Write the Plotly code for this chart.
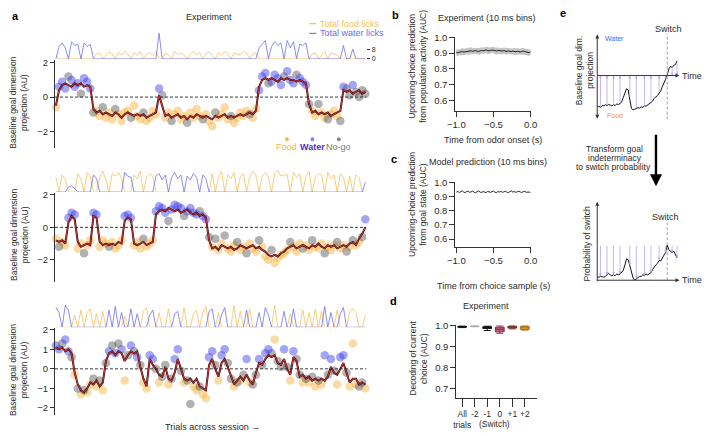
import plotly.graph_objects as go

W, H = 708, 436
FONT = "Liberation Sans, Arial, sans-serif"
TXT = "#2b2b2b"

# ---------------- Panel a data (one entry per trial; values in tenths of AU) ----------------
s1_choice = ("F" "WWWNWWWNWWW" "N" "FFNFFFNFFFFNFFFNFFFF" "W" "N"
             "FFNFFFFNFFFFNFFFNFFFFNFFFFFNFF" "W" "WWNWWWWNWWWNWWW" "N" "FFNFFNFFFN" "W" "NNWNNNN")
s1_line = [-5, 4, 7, 8, 7, 6, 8, 7, 8, 6, 7, 6, -7,
           -9, -8, -10, -9, -10, -11, -9, -10, -12, -10, -9, -10, -11, -10, -11, -10, -12, -11, -10, -9,
           1, -5,
           -11, -10, -12, -11, -10, -12, -11, -13, -11, -12, -10, -11, -12, -11, -12, -13, -11, -12, -11, -10,
           -12, -11, -12, -11, -10, -11, -10, -9, -10, -8,
           6, 10, 11, 10, 11, 10, 9, 11, 10, 11, 10, 10, 9, 10, 9, 8,
           -4, -9, -8, -10, -9, -10, -9, -11, -10, -9, -8,
           4, 3, 4, 2, 3, 4, 2, 3]
s1_dots = [-6, 6, 9, 5, 12, 10, 6, 8, 2, 11, 9, 5, -9,
           -8, -11, -6, -12, -9, -13, -7, -10, -14, -9, -8, -12, -5, -11, -13, -9, -14, -12, -8, -10,
           5, 1,
           -12, -9, -14, -10, -8, -13, -11, -15, -9, -12, -7, -11, -13, -10, -14, -17, -9, -12, -10, -6,
           -13, -11, -15, -12, -9, -11, -8, -10, -12, -7,
           4, 12, 14, 8, 9, 13, 11, 7, 12, 15, 10, 8, 13, 11, 9, 7,
           -4, -8, -11, -4, -9, -12, -13, -10, -8, -11, -14,
           6, 5, 1, 7, 3, 0, 4, 2]
s1_licks = [3, 10, 13, 9, 0, 14, 11, 12, 0, 13, 10, 12, 0,
            4, 5, 0, 3, 6, 4, 0, 5, 3, 6, 4, 0, 5, 3, 6, 0, 4, 5, 3, 6,
            21, 0,
            5, 3, 0, 6, 4, 5, 3, 0, 4, 6, 3, 5, 0, 4, 6, 3, 0, 5, 3, 6, 4, 0, 5, 4, 3, 6, 5, 0, 4, 5,
            9, 12, 15, 0, 10, 14, 11, 13, 0, 15, 9, 14, 0, 12, 11, 13,
            0, 4, 5, 0, 3, 6, 0, 5, 4, 3, 0,
            11, 0, 0, 8, 0, 0, 0, 0]

s2_choice = ("FNFF" "WWW" "FFNFF" "WW" "FFFNFFFF" "WWW" "FFFNFFF" "WWWWNWWWWNWWWWNWW" "N"
             "FNFFNFFFNFFNFFFNF" "FFNFFFF" "FNFFFNFFNFFFNFFFNFFNF" "NFFNW")
s2_line = [-8, -9, -8, -10, 3, 7, 5, -9, -12, -11, -10, -11, 7, 6,
           -9, -11, -10, -11, -10, -11, -9, -10, 4, 6, 5, -10, -11, -10, -9, -11, -10, -9,
           8, 10, 11, 10, 12, 11, 10, 11, 9, 10, 11, 9, 8, 9, 7, 8, 6, -8,
           -13, -12, -14, -11, -12, -13, -12, -14, -13, -11, -12, -13, -12, -11, -13, -12, -14,
           -15, -17, -18, -17, -18, -16, -15,
           -13, -12, -11, -13, -12, -11, -12, -13, -11, -12, -10, -12, -13, -11, -12, -11, -13, -12, -11, -12, -10,
           -9, -11, -7, -4, 0]
s2_dots = [-7, -12, -9, -11, 6, 9, 8, -13, -10, -16, -11, -8, 9, 8,
           -12, -8, -10, -12, -9, -13, -11, -8, 7, 8, 6, -11, -9, -13, -7, -12, -10, -8,
           10, 13, 12, 9, 4, 11, 14, 13, 12, 7, 10, 12, 9, 8, 10, 7, 5, -6,
           -12, -7, -14, -10, -5, -13, -15, -11, -9, -14, -12, -16, -10, -13, -15, -8, -12,
           -18, -20, -14, -22, -19, -17, -16,
           -14, -9, -12, -15, -10, -13, -11, -14, -8, -12, -13, -10, -16, -12, -14, -11, -9, -13, -11, -15, -12,
           -8, -11, -9, -6, 5]
s2_licks = [12, 0, 14, 10, 4, 5, 3, 15, 11, 0, 16, 13, 14, 11,
            12, 17, 10, 0, 15, 13, 16, 11, 16, 13, 12, 14, 11, 17, 0, 12, 15, 13,
            13, 15, 10, 14, 0, 12, 16, 11, 14, 0, 13, 10, 15, 12, 0, 14, 11, 0,
            15, 0, 12, 17, 0, 14, 11, 16, 0, 13, 15, 0, 12, 17, 14, 0, 13,
            16, 12, 0, 15, 18, 13, 14,
            14, 0, 16, 12, 15, 0, 13, 17, 0, 12, 15, 14, 0, 16, 11, 14, 0, 15, 12, 0, 13,
            0, 14, 12, 0, 8]

s3_choice = ("WWNWWNFNFN" "FFNFNFNWNW" "NWFNWNWNFF" "WWNFNNFNWW" "NFNNFFNFFW"
             "WNFWWNNFNF" "NWFNNWNWWN" "FNNWNFWNNF" "NFNFNFWNWN" "FWWNFFFNNF")
s3_line = [11, 10, 11, 9, 10, 8, -2, -8, -11, -12, -10, -7, -8, -6, -9, -7, 4,
           8, 9, 7, 9, 8, 4, 7, 9, 8, 9,
           1, -5, -9, 5, 2, 0, -3, -4, 1, -5, -6, -2, 5, 0, -5, -6, -5, -7, -5, -9,
           -10, -11, 2, 5, 0, -4, 3, 5, 1, -4, -8, -6, -4, -6, -3, -6, -8, -2, 3, 2,
           5, 7, 6, 7, 3, 2, 5, 0, -3, 6, 4, -4, -3, -5, -4, -6, -5, -6, -5, -6,
           -4, 1, -2, -3, 0, 3, -2, -7, -5, -5, -8, -7, -8]
s3_dots = [12, 10, 13, 15, 9, 6, -3, -10, -13, -11,
           -12, -8, -5, -9, -6, -11, 3, 9, 12, 8,
           13, 10, -6, 7, 12, 9, 6, 2, -7, -10,
           7, 5, 0, -7, -4, 2, -8, -5, 5, 10,
           -1, -7, -6, -18, -9, -11, -9, -13, -15, 6,
           9, 2, -6, 7, 10, 3, -5, -9, -7, -6,
           -3, 5, -7, -8, -3, 5, 2, 8, 10, 8,
           15, 4, 1, 10, 1, -6, 9, 5, -3, -7,
           -5, -7, -4, -9, -6, -8, 7, -3, 5, -1,
           -8, 6, 7, -2, -9, 13, -8, -9, -7, -10]
s3_licks = [16, 12, 0, 18, 14, 0, 10, 0, 14, 0,
            12, 15, 0, 11, 0, 13, 0, 14, 0, 17,
            0, 12, 9, 0, 15, 0, 11, 0, 13, 16,
            10, 14, 0, 12, 0, 0, 15, 0, 11, 13,
            0, 16, 0, 0, 11, 14, 0, 12, 17, 13,
            15, 0, 12, 10, 16, 0, 0, 18, 0, 13,
            0, 14, 15, 0, 0, 12, 0, 16, 10, 0,
            18, 0, 0, 13, 0, 11, 15, 0, 0, 14,
            0, 12, 0, 15, 0, 13, 17, 0, 12, 0,
            14, 11, 16, 0, 13, 15, 12, 0, 0, 10]

# ---------------- Panel b / c data (AUC, thousandths) ----------------
b_mean = [905, 903, 906, 908, 910, 907, 909, 912, 910, 913, 915, 912, 914, 916, 913, 911, 914,
          917, 915, 918, 920, 917, 915, 918, 921, 919, 916, 914, 917, 915, 912, 914, 916, 913,
          911, 914, 912, 910, 913, 911, 909, 912, 910, 908, 911, 913, 910, 907, 905, 903, 908]
b_sem = [20, 21, 19, 20, 22, 21, 20, 19, 21, 20, 22, 21, 20, 19, 20, 21, 22, 20, 19, 21, 20,
         22, 21, 20, 19, 21, 20, 22, 21, 20, 19, 21, 20, 22, 21, 20, 19, 20, 21, 22, 20, 21,
         19, 20, 22, 21, 20, 19, 21, 20, 20]
c_mean = [930, 936, 928, 934, 940, 931, 927, 935, 938, 929, 933, 937, 930, 926, 934, 939, 931,
          928, 935, 932, 927, 936, 933, 929, 934, 938, 930, 927, 935, 931, 936, 929, 933, 937,
          930, 928, 934, 939, 931, 935, 929, 933, 937, 932, 928, 934, 936, 930, 933, 931, 929]
bin_times = [round(-1 + 0.02 * i, 2) for i in range(51)]

# ---------------- Panel d data ----------------
d_labels = ["All<br>trials", "-2", "-1", "0", "+1", "+2"]
d_q1 = [0.994, 0.997, 0.988, 0.972, 0.990, 0.983]
d_med = [0.996, 0.998, 0.992, 0.984, 0.994, 0.991]
d_q3 = [0.998, 0.999, 0.996, 0.994, 0.998, 0.998]
d_lo = [0.992, 0.996, 0.978, 0.965, 0.986, 0.980]
d_hi = [0.999, 1.000, 0.999, 1.000, 1.000, 1.000]
d_fill = ["#444444", "#cfcfcf", "#333333", "#c45a7c", "#b5584a", "#e9a83a"]
d_edge = ["#111111", "#aaaaaa", "#111111", "#7d2a48", "#7a3326", "#a8731c"]

# ---------------- Panel e data (schematic) ----------------
e_t = list(range(0, 100, 2))
e_top = [-0.86, -0.84, -0.87, -0.82, -0.83, -0.80, -0.82, -0.79, -0.81, -0.83, -0.80, -0.82,
         -0.78, -0.79, -0.77, -0.72, -0.60, -0.45, -0.36, -0.40, -0.62, -0.90, -0.94, -0.92,
         -0.91, -0.88, -0.89, -0.86, -0.87, -0.83, -0.84, -0.80, -0.76, -0.72, -0.70, -0.62,
         -0.58, -0.55, -0.48, -0.42, -0.30, -0.22, -0.10, 0.02, 0.18, 0.25, 0.22, 0.28, 0.30, 0.40]
e_bot = [0.04, 0.04, 0.05, 0.04, 0.04, 0.05, 0.07, 0.09, 0.07, 0.06, 0.07, 0.06, 0.08, 0.07,
         0.08, 0.10, 0.13, 0.20, 0.28, 0.27, 0.20, 0.10, 0.03, 0.00, 0.02, 0.04, 0.05, 0.05,
         0.07, 0.06, 0.08, 0.07, 0.09, 0.10, 0.14, 0.18, 0.20, 0.22, 0.26, 0.25, 0.30, 0.33,
         0.36, 0.46, 0.40, 0.38, 0.36, 0.38, 0.34, 0.29]
e_arrow_t = [4, 12, 20, 28, 40, 48, 58, 66, 76, 84, 92, 98]
e_switch_t = 86


def dx(a, b):
    return [a / W, b / W]


def dy(top, bot):
    return [1 - bot / H, 1 - top / H]


def PX(x):
    return x / W


def PY(y):
    return 1 - y / H


fig = go.Figure()
ann = []
shp = []
lay = {}


def txt(x, y, s, size=9, color=TXT, xanchor="center", yanchor="middle", angle=0):
    ann.append(dict(x=PX(x), y=PY(y), xref="paper", yref="paper", text=s, showarrow=False,
                    font=dict(size=size, color=color, family=FONT), xanchor=xanchor,
                    yanchor=yanchor, textangle=angle, borderpad=0))


def parrow(hx, hy, tx, ty, color="#333333", width=1.0, size=0.8, head=2):
    ann.append(dict(x=PX(hx), y=PY(hy), xref="paper", yref="paper", ax=tx - hx, ay=ty - hy,
                    axref="pixel", ayref="pixel", text="", showarrow=True, arrowhead=head,
                    arrowsize=size, arrowwidth=width, arrowcolor=color))


AX = dict(showline=True, linecolor="#333333", linewidth=1, ticks="outside", ticklen=5,
          tickwidth=1, tickcolor="#333333", showgrid=False, zeroline=False,
          tickfont=dict(size=9.5, color=TXT, family=FONT))

FOOD_DOT = "rgba(247,176,52,0.45)"
WATER_DOT = "rgba(55,55,235,0.45)"
NOGO_DOT = "rgba(60,60,60,0.40)"
FOOD_LICK = "#f5c15f"
WATER_LICK = "#7070ec"

sessions = [
    dict(choice=s1_choice, line=s1_line, dots=s1_dots, licks=s1_licks, sc=(55, 145),
         rng=[-2.97, 2.17], ticks=[-2, 0, 2], lk=(26, 54), lrng=[0, 22.4], ytitle=99),
    dict(choice=s2_choice, line=s2_line, dots=s2_dots, licks=s2_licks, sc=(191, 282),
         rng=[-3.39, 2.12], ticks=[-2, 0, 2], lk=(163, 190), lrng=[0, 21.6], ytitle=234),
    dict(choice=s3_choice, line=s3_line, dots=s3_dots, licks=s3_licks, sc=(329, 418),
         rng=[-2.38, 2.08], ticks=[-2, -1, 0, 1, 2], lk=(300, 328), lrng=[0, 22.4], ytitle=372),
]

for k, s in enumerate(sessions):
    ns, nl = 2 * k + 1, 2 * k + 2
    xs = "x" if ns == 1 else f"x{ns}"
    ys = "y" if ns == 1 else f"y{ns}"
    xl, yl = f"x{nl}", f"y{nl}"
    ch = list(s["choice"])
    assert len(ch) == len(s["line"]) == len(s["dots"]) == len(s["licks"]) == 100, \
        (k, len(ch), len(s["line"]), len(s["dots"]), len(s["licks"]))
    trials = list(range(len(ch)))
    line = [v / 10 for v in s["line"]]
    dots = [v / 10 for v in s["dots"]]
    food_l = [l if c == "F" else 0 for l, c in zip(s["licks"], ch)]
    water_l = [l if c == "W" else 0 for l, c in zip(s["licks"], ch)]
    fig.add_trace(go.Scatter(x=trials, y=food_l, mode="lines", line=dict(color=FOOD_LICK, width=0.8),
                             xaxis=xl, yaxis=yl, hoverinfo="skip"))
    fig.add_trace(go.Scatter(x=trials, y=water_l, mode="lines", line=dict(color=WATER_LICK, width=0.8),
                             xaxis=xl, yaxis=yl, hoverinfo="skip"))
    for cat, col in [("F", FOOD_DOT), ("N", NOGO_DOT), ("W", WATER_DOT)]:
        xi = [i for i, c in enumerate(ch) if c == cat]
        fig.add_trace(go.Scatter(x=xi, y=[dots[i] for i in xi], mode="markers",
                                 marker=dict(size=8.5, color=col, line=dict(width=0)),
                                 cliponaxis=False, xaxis=xs, yaxis=ys))
    fig.add_trace(go.Scatter(x=trials, y=line, mode="lines", line=dict(color="#4a0c0c", width=2.0),
                             xaxis=xs, yaxis=ys))
    fig.add_trace(go.Scatter(x=trials, y=line, mode="lines", line=dict(color="#cf3a40", width=0.9),
                             xaxis=xs, yaxis=ys))
    lay["xaxis" if ns == 1 else f"xaxis{ns}"] = dict(domain=dx(48, 366), range=[-0.3, 99.3],
                                                     visible=False, anchor=ys)
    ya = dict(AX)
    ya.update(domain=dy(*s["sc"]), range=s["rng"], anchor=xs, tickvals=s["ticks"], ticklen=4)
    lay["yaxis" if ns == 1 else f"yaxis{ns}"] = ya
    lay[f"xaxis{nl}"] = dict(domain=dx(48, 366), range=[-0.3, 99.3], visible=False, anchor=yl)
    if k == 0:
        lay[f"yaxis{nl}"] = dict(domain=dy(*s["lk"]), range=s["lrng"], anchor=xl, side="right",
                                 showline=False, ticks="outside", ticklen=3, tickcolor="#333",
                                 tickvals=[0, 8], showgrid=False, zeroline=False,
                                 tickfont=dict(size=7, color=TXT, family=FONT))
    else:
        lay[f"yaxis{nl}"] = dict(domain=dy(*s["lk"]), range=s["lrng"], anchor=xl, visible=False)
    shp.append(dict(type="line", xref=f"{xs} domain", x0=0, x1=1, yref=ys, y0=0, y1=0,
                    line=dict(color="#222222", width=0.9, dash="3px,2px")))
    txt(11, s["ytitle"], "Baseline goal dimension<br>projection (AU)", size=8.5, angle=-90)

# panel a texts
txt(8, 10, "<b>a</b>", size=11, color="#000")
txt(205, 11, "Experiment", size=9)
shp.append(dict(type="line", xref="paper", yref="paper", x0=PX(308), x1=PX(315), y0=PY(18), y1=PY(18),
                line=dict(color=FOOD_LICK, width=1.2)))
shp.append(dict(type="line", xref="paper", yref="paper", x0=PX(308), x1=PX(315), y0=PY(28), y1=PY(28),
                line=dict(color=WATER_LICK, width=1.2)))
txt(318, 18, "Total food licks", size=9, color="#f2c25c", xanchor="left")
txt(318, 28, "Total water licks", size=9, color="#6e6ee4", xanchor="left")
for cx, lab, dcol, tcol in [(285, "Food", "#f5b342", "#f0b840"), (311, "<b>Water</b>", "#8a80e8", "#4a2fd0"),
                            (338, "No-go", "#8a8a8a", "#7a7a7a")]:
    shp.append(dict(type="circle", xref="paper", yref="paper", x0=PX(cx - 2), x1=PX(cx + 2),
                    y0=PY(138), y1=PY(134), fillcolor=dcol, line=dict(width=0)))
    txt(cx, 144, lab, size=9, color=tcol)
txt(209, 430, "Trials across session \u2192", size=9)

# ---------------- panel b ----------------
b_lo = [(m - e) / 1000 for m, e in zip(b_mean, b_sem)]
b_hi = [(m + e) / 1000 for m, e in zip(b_mean, b_sem)]
fig.add_trace(go.Scatter(x=bin_times, y=b_lo, mode="lines", line=dict(width=0), xaxis="x7", yaxis="y7"))
fig.add_trace(go.Scatter(x=bin_times, y=b_hi, mode="lines", line=dict(width=0), fill="tonexty",
                         fillcolor="rgba(165,165,165,0.65)", xaxis="x7", yaxis="y7"))
fig.add_trace(go.Scatter(x=bin_times, y=[m / 1000 for m in b_mean], mode="lines",
                         line=dict(color="#111", width=0.9), xaxis="x7", yaxis="y7"))
xa = dict(AX); xa.update(domain=dx(457, 534), range=[-1.013, 0.0], anchor="y7",
                         tickvals=[-1, -0.5, 0], tickformat=".1f")
ya = dict(AX); ya.update(domain=dy(32, 107), range=[0.536, 1.0], anchor="x7",
                         tickvals=[0.6, 0.7, 0.8, 0.9, 1.0], tickformat=".1f")
lay["xaxis7"], lay["yaxis7"] = xa, ya
txt(396, 9, "<b>b</b>", size=11, color="#000")
txt(489, 12, "Experiment (10 ms bins)", size=9)
txt(419, 62, "Upcoming-choice prediction<br>from population activity (AUC)", size=8.5, angle=-90)
txt(496, 137, "Time from odor onset (s)", size=9)

# ---------------- panel c ----------------
fig.add_trace(go.Scatter(x=bin_times, y=[m / 1000 for m in c_mean], mode="lines",
                         line=dict(color="#111", width=0.9), xaxis="x8", yaxis="y8"))
xa = dict(AX); xa.update(domain=dx(457, 534), range=[-1.013, 0.0], anchor="y8",
                         tickvals=[-1, -0.5, 0], tickformat=".1f")
ya = dict(AX); ya.update(domain=dy(180, 246), range=[0.545, 1.0], anchor="x8",
                         tickvals=[0.6, 0.7, 0.8, 0.9, 1.0], tickformat=".1f")
lay["xaxis8"], lay["yaxis8"] = xa, ya
txt(394, 156, "<b>c</b>", size=11, color="#000")
txt(490, 159, "Model prediction (10 ms bins)", size=9)
txt(419, 203, "Upcoming-choice prediction<br>from goal state (AUC)", size=8.5, angle=-90)
txt(496, 286, "Time from choice sample (s)", size=9)

# ---------------- panel d ----------------
for i in range(len(d_labels)):
    fig.add_trace(go.Box(x=[i], q1=[d_q1[i]], median=[d_med[i]], q3=[d_q3[i]],
                         lowerfence=[d_lo[i]], upperfence=[d_hi[i]], fillcolor=d_fill[i],
                         line=dict(color=d_edge[i], width=1), width=0.7, whiskerwidth=0.8,
                         xaxis="x9", yaxis="y9", boxpoints=False))
xa = dict(AX); xa.update(domain=dx(458, 540), range=[-0.47, 5.94], anchor="y9",
                         tickvals=list(range(6)), ticktext=d_labels, ticklen=8, tickangle=0,
                         tickfont=dict(size=8.5, color=TXT, family=FONT))
ya = dict(AX); ya.update(domain=dy(326, 400), range=[0.658, 1.003], anchor="x9",
                         tickvals=[0.7, 0.8, 0.9, 1.0], tickformat=".1f")
lay["xaxis9"], lay["yaxis9"] = xa, ya
txt(394, 301, "<b>d</b>", size=11, color="#000")
txt(488, 306, "Experiment", size=9)
txt(419, 360, "Decoding of current<br>choice (AUC)", size=8.5, angle=-90)
txt(497, 427, "(Switch)", size=8.5)

# ---------------- panel e ----------------
fig.add_trace(go.Scatter(x=e_t, y=e_top, mode="lines", line=dict(color="#111", width=1),
                         xaxis="x10", yaxis="y10"))
fig.add_trace(go.Scatter(x=e_t, y=e_bot, mode="lines", line=dict(color="#111", width=1),
                         xaxis="x11", yaxis="y11"))
lay["xaxis10"] = dict(domain=dx(602, 686), range=[0, 101], visible=False, anchor="y10")
lay["yaxis10"] = dict(domain=dy(28, 116), range=[-1.206, 1.153], visible=False, anchor="x10")
lay["xaxis11"] = dict(domain=dx(602, 686), range=[0, 101], visible=False, anchor="y11")
lay["yaxis11"] = dict(domain=dy(200, 280), range=[0, 1.026], visible=False, anchor="x11")
LAV = "#b4a6f0"
for t in e_arrow_t:
    j = e_t.index(t)
    ann.append(dict(x=t, y=0, ax=t, ay=e_top[j], xref="x10", yref="y10", axref="x10", ayref="y10",
                    text="", showarrow=True, arrowhead=2, arrowsize=0.7, arrowwidth=0.8, arrowcolor=LAV))
    ann.append(dict(x=t, y=e_bot[j], ax=t, ay=0.47, xref="x11", yref="y11", axref="x11", ayref="y11",
                    text="", showarrow=True, arrowhead=2, arrowsize=0.7, arrowwidth=0.8, arrowcolor=LAV))
for xr, yr, y0, y1 in [("x10", "y10", -1.206, 1.153), ("x11", "y11", 0, 0.75)]:
    shp.append(dict(type="line", xref=xr, yref=yr, x0=e_switch_t, x1=e_switch_t, y0=y0, y1=y1,
                    line=dict(color="#999", width=0.9, dash="3px,2px")))
# axes of schematic
parrow(602, 29, 602, 71, color="#333")
parrow(602, 115, 602, 71, color="#333")
parrow(686, 71, 602, 71, color="#333355")
parrow(602, 200, 602, 281, color="#333")
parrow(686, 280, 602, 280, color="#333")
parrow(662, 184, 662, 131, color="#000", width=2.4, size=1.0)
txt(567, 7, "<b>e</b>", size=11, color="#000")
txt(675, 23, "Switch", size=9)
txt(672, 215, "Switch", size=9)
txt(688, 71, "Time", size=9, xanchor="left")
txt(688, 280, "Time", size=9, xanchor="left")
txt(620, 33, "Water", size=7, color="#4a6ae0")
txt(620, 112, "Food", size=7, color="#f0a22a")
txt(589, 66, "Baseline goal dim.<br>projection", size=8.5, angle=-90)
txt(592, 243, "Probability of switch", size=8.5, angle=-90)
txt(620, 146, "Transform goal", size=8.5)
txt(620, 155, "indeterminacy", size=8.5)
txt(619, 164, "to switch probability", size=8.5)

fig.update_layout(width=W, height=H, margin=dict(l=0, r=0, t=0, b=0), paper_bgcolor="white",
                  plot_bgcolor="white", showlegend=False, hovermode=False,
                  font=dict(family=FONT, size=9, color=TXT), annotations=ann, shapes=shp, **lay)
fig.write_html("out.html", config={"displayModeBar": False, "staticPlot": True},
               post_script="document.body.style.margin='0px';document.body.style.overflow='hidden';")
